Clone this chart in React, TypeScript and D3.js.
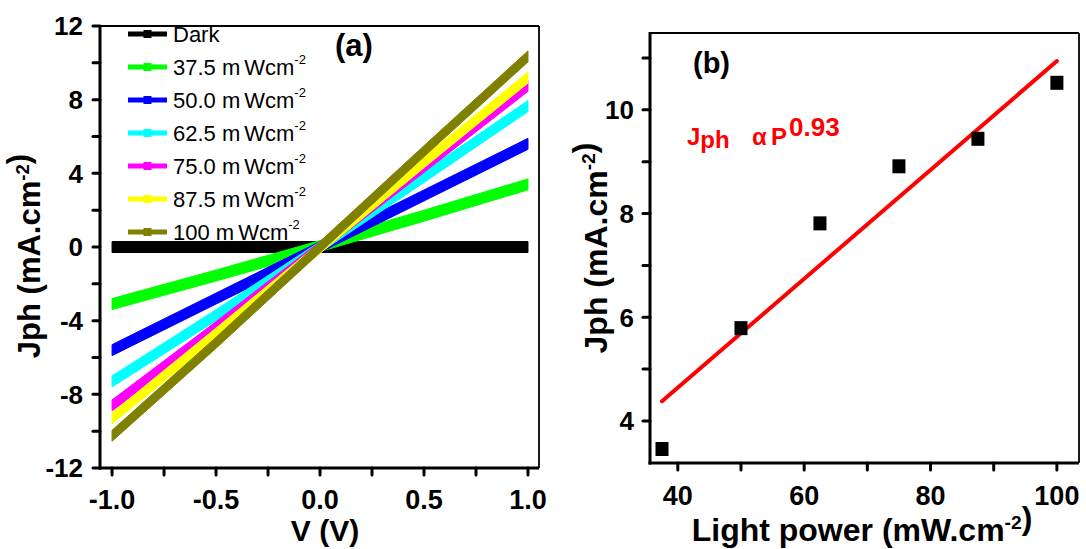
import React from "react";
import * as d3 from "d3";

const width = 1086;
const height = 549;
const FONT = "'Liberation Sans', Arial, Helvetica, sans-serif";

// panel (a): J-V curves
const voltage = [-1, -0.5, 0, 0.5, 1];
const seriesNames = ["Dark", "37.5", "50.0", "62.5", "75.0", "87.5", "100"];
const seriesColors = ["#000000", "#00ff00", "#0000ff", "#00ffff", "#ff00ff", "#ffff00", "#808000"];
const jDark = [0, 0, 0, 0, 0];
const j375 = [-3.1, -1.55, 0.05, 1.7, 3.4];
const j500 = [-5.6, -2.8, 0.0, 2.8, 5.6];
const j625 = [-7.3, -3.7, 0.0, 3.8, 7.65];
const j750 = [-8.6, -4.35, 0.0, 4.35, 8.75];
const j875 = [-9.3, -4.7, -0.05, 4.6, 9.2];
const j1000 = [-10.25, -5.2, 0.0, 5.2, 10.35];
const seriesValues = [jDark, j375, j500, j625, j750, j875, j1000];

const xMajorA = [-1, -0.5, 0, 0.5, 1];
const xMajorLabelsA = ["-1.0", "-0.5", "0.0", "0.5", "1.0"];
const xMinorA = [-0.75, -0.25, 0.25, 0.75];
const yMajorA = [-12, -8, -4, 0, 4, 8, 12];
const yMinorA = [-10, -6, -2, 2, 6, 10];

// panel (b): photocurrent vs light power
const power = [37.5, 50, 62.5, 75, 87.5, 100];
const jph = [3.46, 5.79, 7.81, 8.91, 9.44, 10.52];
const fitPower = [37.5, 100];
const fitJ = [4.38, 10.94];

const xMajorB = [40, 60, 80, 100];
const xMinorB = [50, 70, 90];
const yMajorB = [4, 6, 8, 10];
const yMinorB = [5, 7, 9, 11];

const xA = d3.scaleLinear().domain([-1.058, 1.053]).range([100, 539]);
const yA = d3.scaleLinear().domain([-12, 12]).range([468, 26]);
const xB = d3.scaleLinear().domain([35.6, 103.5]).range([650, 1079]);
const yB = d3.scaleLinear().domain([3.19, 11.48]).range([463, 33]);

const TICK = 7;
const BAND = 5.5; // half height of the thick J-V bands

function Frame({ x, y }: { x: any; y: any }) {
  const [x0, x1] = x.range();
  const [y0, y1] = y.range();
  return (
    <g>
      <line x1={x0} x2={x1} y1={y1} y2={y1} stroke="#000" strokeWidth={1.8} />
      <line x1={x1} x2={x1} y1={y1} y2={y0} stroke="#000" strokeWidth={1.8} />
      <line x1={x0} x2={x0} y1={y1 - 1} y2={y0 + 1.5} stroke="#000" strokeWidth={3} />
      <line x1={x0 - 1.5} x2={x1} y1={y0} y2={y0} stroke="#000" strokeWidth={3} />
    </g>
  );
}

function Ticks({ x, y, xMajor, xMinor, yMajor, yMinor }: any) {
  const x0 = x.range()[0];
  const y0 = y.range()[0];
  const xs = [...xMajor, ...xMinor];
  const ys = [...yMajor, ...yMinor];
  return (
    <g stroke="#000" strokeWidth={3} strokeLinecap="round">
      {xs.map((v: number, i: number) => (
        <line key={"x" + i} x1={x(v)} x2={x(v)} y1={y0} y2={y0 + TICK} />
      ))}
      {ys.map((v: number, i: number) => (
        <line key={"y" + i} x1={x0} x2={x0 - TICK} y1={y(v)} y2={y(v)} />
      ))}
    </g>
  );
}

function Sup({ base, sup, size }: { base: string; sup: string; size: number }) {
  return (
    <>
      <tspan>{base}</tspan>
      <tspan fontSize={size * 0.6} dy={-size * 0.36}>{sup}</tspan>
      <tspan dy={size * 0.36}></tspan>
    </>
  );
}

export default function App() {
  // bands of constant vertical thickness, like the stacked markers of the original
  const bandA = d3
    .area<number>()
    .x((_, i) => xA(voltage[i]))
    .y0((d) => yA(d) + BAND)
    .y1((d) => yA(d) - BAND);
  const fitLine = d3
    .line<number>()
    .x((_, i) => xB(fitPower[i]))
    .y((d) => yB(d));

  return (
    <svg
      width={width}
      height={height}
      style={{ position: "absolute", left: 0, top: 0, background: "#fff" }}
      fontFamily={FONT}
    >
      {/* ---------- panel (a) ---------- */}
      <g>
        {seriesValues.map((vals, i) => (
          <path
            key={seriesNames[i]}
            d={bandA(vals) || ""}
            fill={seriesColors[i]}
            stroke={seriesColors[i]}
            strokeWidth={1}
          />
        ))}
        <Frame x={xA} y={yA} />
        <Ticks x={xA} y={yA} xMajor={xMajorA} xMinor={xMinorA} yMajor={yMajorA} yMinor={yMinorA} />
        <g fontSize={26} fontWeight="bold" textAnchor="end">
          {yMajorA.map((v) => (
            <text key={v} x={83} y={yA(v)} dy="0.36em">
              {String(v)}
            </text>
          ))}
        </g>
        <g fontSize={27} fontWeight="bold" textAnchor="middle">
          {xMajorA.map((v, i) => (
            <text key={v} x={xA(v)} y={509}>
              {xMajorLabelsA[i]}
            </text>
          ))}
        </g>
        <text x={325} y={541} fontSize={30} fontWeight="bold" textAnchor="middle">
          V (V)
        </text>
        <text
          transform={`translate(40,256) rotate(-90)`}
          fontSize={31}
          fontWeight="bold"
          textAnchor="middle"
        >
          <Sup base="Jph (mA.cm" sup="-2" size={31} />)
        </text>
        <text x={335} y={56} fontSize={31} fontWeight="bold">
          (a)
        </text>
        {/* legend */}
        <g>
          {seriesNames.map((name, i) => {
            const cy = 34 + 33 * i;
            return (
              <g key={name}>
                <line x1={128} x2={167} y1={cy} y2={cy} stroke={seriesColors[i]} strokeWidth={5} />
                <rect x={143.5} y={cy - 4} width={8} height={8} fill={seriesColors[i]} />
                <text x={173} y={cy + 8} fontSize={22}>
                  {i === 0 ? (
                    name
                  ) : (
                    <>
                      <tspan>{name + " m"}</tspan>
                      <tspan dx={4}>Wcm</tspan>
                      <tspan fontSize={13} dy={-11}>-2</tspan>
                    </>
                  )}
                </text>
              </g>
            );
          })}
        </g>
      </g>

      {/* ---------- panel (b) ---------- */}
      <g>
        <path
          d={fitLine(fitJ) || ""}
          fill="none"
          stroke="#ff0000"
          strokeWidth={4}
          strokeLinecap="round"
        />
        {power.map((p, i) => (
          <rect key={p} x={xB(p) - 6.5} y={yB(jph[i]) - 7} width={13} height={14} fill="#000" />
        ))}
        <Frame x={xB} y={yB} />
        <Ticks x={xB} y={yB} xMajor={xMajorB} xMinor={xMinorB} yMajor={yMajorB} yMinor={yMinorB} />
        <g fontSize={26} fontWeight="bold" textAnchor="end">
          {yMajorB.map((v) => (
            <text key={v} x={634} y={yB(v)} dy="0.36em">
              {String(v)}
            </text>
          ))}
        </g>
        <g fontSize={27} fontWeight="bold" textAnchor="middle">
          {xMajorB.map((v) => (
            <text key={v} x={xB(v)} y={505}>
              {String(v)}
            </text>
          ))}
        </g>
        <text x={862} y={541} fontSize={32} fontWeight="bold" textAnchor="middle">
          <Sup base="Light power (mW.cm" sup="-2" size={32} />)
        </text>
        <text
          transform={`translate(607,248) rotate(-90)`}
          fontSize={32}
          fontWeight="bold"
          textAnchor="middle"
        >
          <Sup base="Jph (mA.cm" sup="-2" size={32} />)
        </text>
        <text x={693} y={73} fontSize={29} fontWeight="bold">
          (b)
        </text>
        <text fill="#ff0000" fontWeight="bold" fontSize={24}>
          <tspan x={687} y={145}>J</tspan>
          <tspan y={148}>ph</tspan>
          <tspan x={752} y={145}>α</tspan>
          <tspan x={771} y={145}>P</tspan>
          <tspan x={789} y={136} fontSize={26}>0.93</tspan>
        </text>
      </g>
    </svg>
  );
}
